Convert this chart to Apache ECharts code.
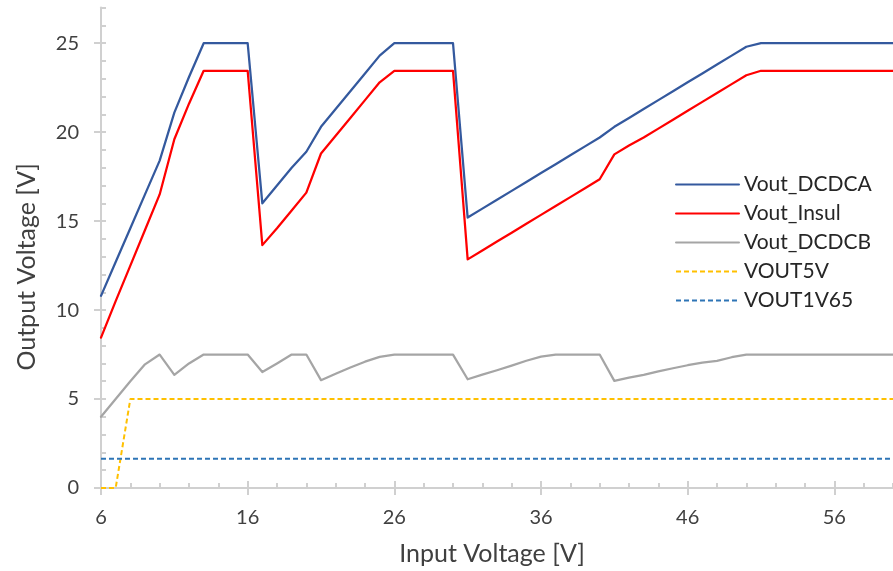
<!DOCTYPE html>
<html>
<head>
<meta charset="utf-8">
<script src="https://cdn.jsdelivr.net/npm/echarts@6/dist/echarts.min.js"></script>
<style>
  html, body { margin: 0; padding: 0; background: #fff; }
  #chart { width: 893px; height: 571px; }
</style>
</head>
<body>
<div id="chart"></div>
<script>
// Input voltage sweep (V)
const inputV = [6, 7, 8, 9, 10, 11, 12, 13, 14, 15, 16, 17, 18, 19, 20, 21, 22, 23, 24, 25,
  26, 27, 28, 29, 30, 31, 32, 33, 34, 35, 36, 37, 38, 39, 40, 41, 42, 43, 44, 45,
  46, 47, 48, 49, 50, 51, 52, 53, 54, 55, 56, 57, 58, 59, 60];

const voutDCDCA = [10.8, 12.7, 14.6, 16.5, 18.4, 21.1, 23.1, 25, 25, 25, 25, 16.0, 17.0, 18.0, 18.9, 20.3, 21.3, 22.3, 23.3, 24.3,
  25, 25, 25, 25, 25, 15.2, 15.7, 16.2, 16.7, 17.2, 17.7, 18.2, 18.7, 19.2, 19.7, 20.3, 20.8, 21.3, 21.8, 22.3,
  22.8, 23.3, 23.8, 24.3, 24.8, 25, 25, 25, 25, 25, 25, 25, 25, 25, 25];

const voutInsul = [8.45, 10.5, 12.5, 14.5, 16.5, 19.6, 21.6, 23.45, 23.45, 23.45, 23.45, 13.65, 14.6, 15.6, 16.6, 18.8, 19.8, 20.8, 21.8, 22.8,
  23.45, 23.45, 23.45, 23.45, 23.45, 12.85, 13.35, 13.85, 14.35, 14.85, 15.35, 15.85, 16.35, 16.85, 17.35, 18.75, 19.25, 19.7, 20.2, 20.7,
  21.2, 21.7, 22.2, 22.7, 23.2, 23.45, 23.45, 23.45, 23.45, 23.45, 23.45, 23.45, 23.45, 23.45, 23.45];

const voutDCDCB = [4.0, 5.0, 6.0, 6.95, 7.5, 6.36, 7.0, 7.5, 7.5, 7.5, 7.5, 6.52, 7.0, 7.5, 7.5, 6.06, 6.42, 6.77, 7.1, 7.37,
  7.5, 7.5, 7.5, 7.5, 7.5, 6.11, 6.37, 6.62, 6.88, 7.15, 7.38, 7.5, 7.5, 7.5, 7.5, 6.02, 6.2, 6.36, 6.55, 6.73,
  6.9, 7.05, 7.14, 7.35, 7.5, 7.5, 7.5, 7.5, 7.5, 7.5, 7.5, 7.5, 7.5, 7.5, 7.5];

const vout5V = [0, 0, 5, 5, 5, 5, 5, 5, 5, 5, 5, 5, 5, 5, 5, 5, 5, 5, 5, 5,
  5, 5, 5, 5, 5, 5, 5, 5, 5, 5, 5, 5, 5, 5, 5, 5, 5, 5, 5, 5,
  5, 5, 5, 5, 5, 5, 5, 5, 5, 5, 5, 5, 5, 5, 5];

const vout1V65 = [1.65, 1.65, 1.65, 1.65, 1.65, 1.65, 1.65, 1.65, 1.65, 1.65, 1.65, 1.65, 1.65, 1.65, 1.65, 1.65, 1.65, 1.65, 1.65, 1.65,
  1.65, 1.65, 1.65, 1.65, 1.65, 1.65, 1.65, 1.65, 1.65, 1.65, 1.65, 1.65, 1.65, 1.65, 1.65, 1.65, 1.65, 1.65, 1.65, 1.65,
  1.65, 1.65, 1.65, 1.65, 1.65, 1.65, 1.65, 1.65, 1.65, 1.65, 1.65, 1.65, 1.65, 1.65, 1.65];

// Tick positions
const xMajorTicks = [6, 16, 26, 36, 46, 56];
const xMinorTicks = [6, 8, 10, 12, 14, 16, 18, 20, 22, 24, 26, 28, 30, 32, 34, 36, 38, 40, 42, 44, 46, 48, 50, 52, 54, 56, 58, 60];
const yMajorTicks = [0, 5, 10, 15, 20, 25];
const yMinorTicks = [0, 1, 2, 3, 4, 5, 6, 7, 8, 9, 10, 11, 12, 13, 14, 15, 16, 17, 18, 19, 20, 21, 22, 23, 24, 25, 26, 27];

const FONT = "Lato, 'Open Sans', sans-serif";
const AXIS_COLOR = '#D0D0D0';
const TEXT_COLOR = '#404040';

function pairs(ys) { return inputV.map((x, i) => [x, ys[i]]); }

function solid(name, color, ys) {
  return {
    name, type: 'line', data: pairs(ys), symbol: 'none', showSymbol: false, smooth: false,
    lineStyle: { color, width: 2.25, cap: 'round', join: 'round' },
    itemStyle: { color }, emphasis: { disabled: true }, z: 3
  };
}
function dashed(name, color, ys) {
  return {
    name, type: 'line', data: pairs(ys), symbol: 'none', showSymbol: false, smooth: false,
    lineStyle: { color, width: 2, type: [5, 3] },
    itemStyle: { color }, emphasis: { disabled: true }, z: 3
  };
}

const hiddenAxisParts = {
  axisLine: { show: false },
  axisLabel: { show: false },
  splitLine: { show: false }
};

const chart = echarts.init(document.getElementById('chart'), null, { renderer: 'canvas' });
chart.setOption({
  animation: false,
  backgroundColor: '#ffffff',
  grid: { left: 101, top: 7.6, width: 796.5, height: 481.4, containLabel: false },
  xAxis: [
    {
      type: 'value', min: 6, max: 60, position: 'bottom',
      name: 'Input Voltage [V]', nameLocation: 'middle', nameGap: 53,
      nameTextStyle: { fontFamily: FONT, fontSize: 25, color: TEXT_COLOR, padding: [0, 10, 0, 0] },
      axisLine: { show: true, lineStyle: { color: AXIS_COLOR, width: 2 } },
      axisTick: { show: true, customValues: xMajorTicks, length: 7, inside: false, lineStyle: { color: AXIS_COLOR, width: 2 } },
      axisLabel: { customValues: xMajorTicks, margin: 20, fontFamily: FONT, fontSize: 20, color: TEXT_COLOR },
      splitLine: { show: false }
    },
    Object.assign({
      type: 'value', min: 6, max: 60, position: 'bottom',
      axisTick: { show: true, customValues: xMajorTicks, length: 7, inside: true, lineStyle: { color: AXIS_COLOR, width: 2 } }
    }, hiddenAxisParts),
    Object.assign({
      type: 'value', min: 6, max: 60, position: 'bottom',
      axisTick: { show: true, customValues: xMinorTicks, length: 5, inside: true, lineStyle: { color: AXIS_COLOR, width: 2 } }
    }, hiddenAxisParts)
  ],
  yAxis: [
    {
      type: 'value', min: 0, max: 27, position: 'left',
      name: 'Output Voltage [V]', nameLocation: 'middle', nameGap: 62, nameRotate: 90,
      nameTextStyle: { fontFamily: FONT, fontSize: 25, color: TEXT_COLOR, padding: [0, 38, 0, 0] },
      axisLine: { show: true, lineStyle: { color: AXIS_COLOR, width: 2 } },
      axisTick: { show: true, customValues: yMajorTicks, length: 7, inside: false, lineStyle: { color: AXIS_COLOR, width: 2 } },
      axisLabel: { customValues: yMajorTicks, margin: 22, fontFamily: FONT, fontSize: 20, color: TEXT_COLOR },
      splitLine: { show: false }
    },
    Object.assign({
      type: 'value', min: 0, max: 27, position: 'left',
      axisTick: { show: true, customValues: yMinorTicks, length: 5, inside: true, lineStyle: { color: AXIS_COLOR, width: 2 } }
    }, hiddenAxisParts)
  ],
  legend: {
    orient: 'vertical', left: 675, top: 174, padding: 0,
    itemWidth: 63, itemHeight: 14, itemGap: 8,
    itemStyle: { opacity: 0 },
    textStyle: { fontFamily: FONT, fontSize: 21, color: '#262626' },
    data: ['Vout_DCDCA', 'Vout_Insul', 'Vout_DCDCB', 'VOUT5V', 'VOUT1V65']
  },
  series: [
    solid('Vout_DCDCA', '#34599E', voutDCDCA),
    solid('Vout_Insul', '#FF0000', voutInsul),
    solid('Vout_DCDCB', '#A5A5A5', voutDCDCB),
    dashed('VOUT5V', '#FFC000', vout5V),
    dashed('VOUT1V65', '#2E75B6', vout1V65)
  ]
});
</script>
</body>
</html>
